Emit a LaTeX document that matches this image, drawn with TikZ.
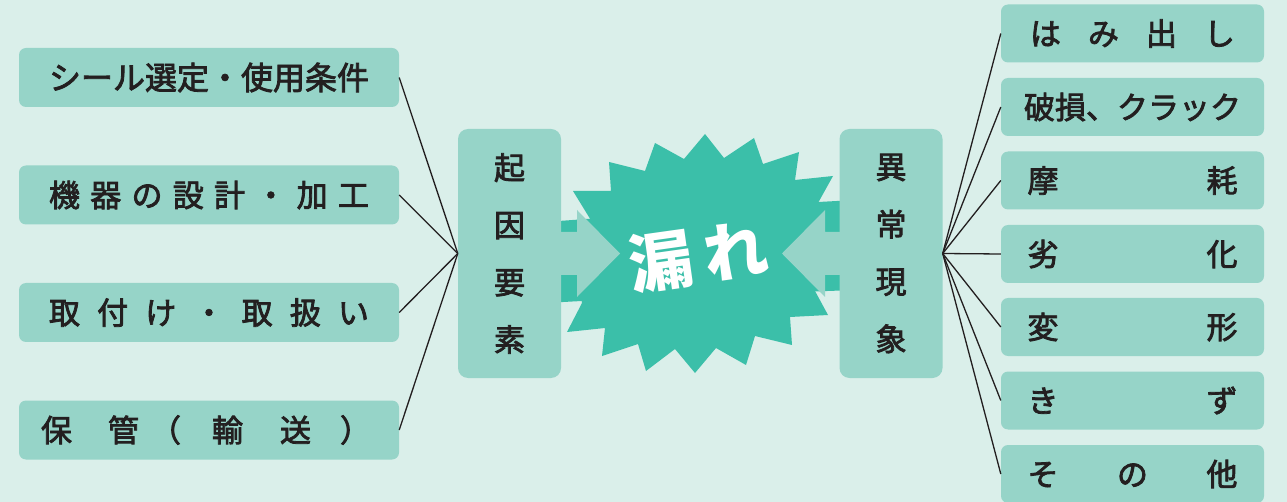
\documentclass[tikz,border=0pt]{standalone}
\usepackage{fontspec}
\newfontfamily\jp{Noto Sans CJK JP}[FakeBold=2.5]
\newfontfamily\jpbold{Noto Sans CJK JP}
\usetikzlibrary{positioning, calc}
\definecolor{leakBg}   {HTML}{DAEFEA}
\definecolor{leakBox}  {HTML}{96D4C8}
\definecolor{leakBurst}{HTML}{3BBFA9}
\definecolor{leakInk}  {HTML}{231F20}

\begin{document}
\begin{tikzpicture}[x=1pt, y=-1pt,
  every node/.style={font=\jp\fontsize{31}{31}\selectfont, text=leakInk},
  factor/.style={fill=leakBox, rounded corners=7pt, minimum width=380pt,
                 minimum height=59pt, inner sep=0pt},
  symptom/.style={fill=leakBox, rounded corners=7pt, minimum width=263pt,
                  minimum height=58pt, inner sep=0pt},
  column/.style={fill=leakBox, rounded corners=10pt, minimum width=103pt,
                 minimum height=249pt, inner sep=0pt, align=center,
                 font=\jp\fontsize{31}{57.3}\selectfont},
  link/.style={draw=leakInk, line width=1.3pt},
]

% Background
\fill[leakBg] (0,0) rectangle (1287,502);
\clip (0,0) rectangle (1287,502);

% Burst with its side spikes
\fill[leakBurst] (600,218) -- (545,222) -- (545,303) -- (600,300) -- cycle;
\fill[leakBurst] (800,203) -- (855,200) -- (855,290) -- (800,292) -- cycle;
\fill[leakBurst] (705,134) -- (724,158) -- (754,138) -- (763,164) -- (799,152)
  -- (795,180) -- (833,176) -- (818,203) -- (835,247) -- (815,291) -- (828,315)
  -- (790,317) -- (792,345) -- (755,336) -- (746,365) -- (716,348) -- (695,373)
  -- (675,349) -- (646,371) -- (638,344) -- (602,356) -- (605,328) -- (567,332)
  -- (582,303) -- (575,258) -- (592,222) -- (573,191) -- (611,191) -- (609,162)
  -- (645,171) -- (655,143) -- (684,159) -- cycle;

% Block arrows into the burst
\fill[leakBox] (555,232) -- (577,232) -- (577,210) -- (620,253.5) -- (577,297)
  -- (577,275) -- (555,275) -- cycle;
\fill[leakBox] (847,232) -- (825,232) -- (825,210) -- (782,253.5) -- (825,297)
  -- (825,275) -- (847,275) -- cycle;

\node[text=white, rotate=8, font=\jpbold\bfseries\fontsize{64}{64}\selectfont]
  (leak) at (698,256) {漏\hspace{12pt}れ};

% Columns
\node[column] (cause) at (509.5,253.5) {起\\因\\要\\素};
\node[column] (phen)  at (891,253.5)   {異\\常\\現\\象};

% Factors
\node[factor, font=\jp\fontsize{32}{32}\selectfont] (f1) at (209,77.5)
  {シール選定・使用条件};
\node[factor] (f2) at (209,195)
  {\makebox[320pt][s]{機\hfill 器\hfill の\hfill 設\hfill 計\hfill ・\hfill 加\hfill 工}};
\node[factor] (f3) at (209,312.5)
  {\makebox[320pt][s]{取\hfill 付\hfill け\hfill ・\hfill 取\hfill 扱\hfill い}};
\node[factor] (f4) at (209,430)
  {\makebox[336pt][l]{保\hspace{36pt}管\hspace{11pt}（\hspace{31pt}輸\hspace{37pt}送\hspace{29pt}）}};

% Symptoms
\node[symptom] (s1) at (1132.5,33.5)
  {\makebox[205pt][s]{は\hfill み\hfill 出\hfill し}};
\node[symptom] (s2) at (1132.5,107)
  {破損、クラック};
\node[symptom] (s3) at (1132.5,180.5)
  {\makebox[210pt][s]{摩\hfill 耗}};
\node[symptom] (s4) at (1132.5,254)
  {\makebox[210pt][s]{劣\hfill 化}};
\node[symptom] (s5) at (1132.5,327)
  {\makebox[210pt][s]{変\hfill 形}};
\node[symptom] (s6) at (1132.5,400.5)
  {\makebox[210pt][s]{き\hfill ず}};
\node[symptom] (s7) at (1132.5,474)
  {\makebox[210pt][s]{そ\hfill の\hfill 他}};

% Links
\foreach \i in {1,...,4}
  \draw[link] (f\i.east) -- (cause.west);
\foreach \i in {1,...,7}
  \draw[link] (phen.east) -- (s\i.west);

\end{tikzpicture}
\end{document}
